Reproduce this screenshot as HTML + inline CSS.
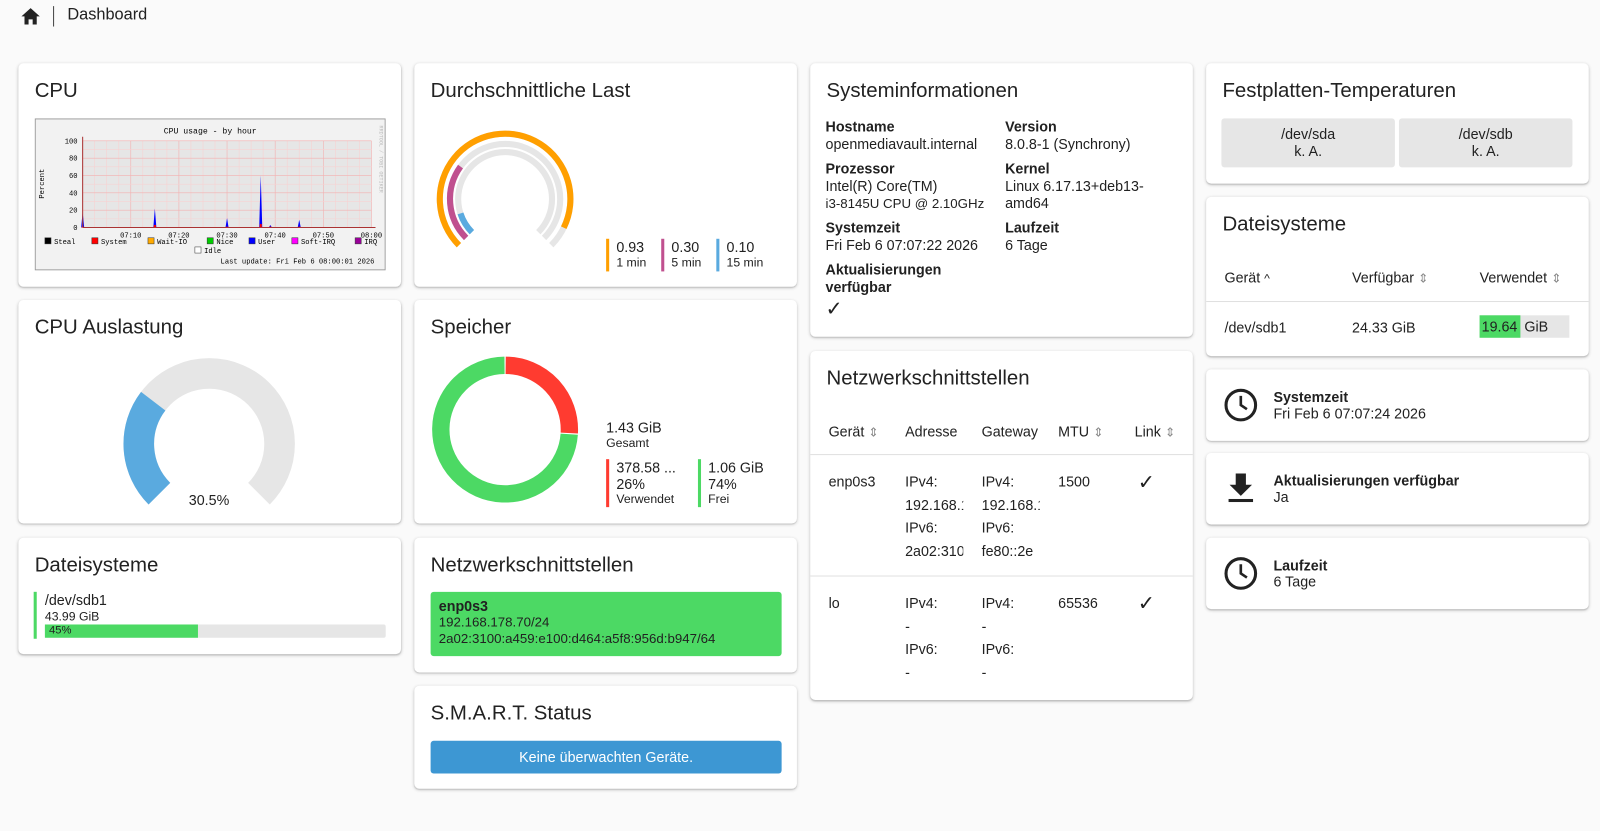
<!DOCTYPE html>
<html><head><meta charset="utf-8">
<style>
*{box-sizing:border-box;margin:0;padding:0}
body{width:1600px;height:831px;background:#fafafa;font-family:"Liberation Sans",sans-serif;color:#212121;position:relative;overflow:hidden;font-size:14px}
#wrap{position:absolute;left:0;top:0;width:1568px;height:814px;transform:scale(1.0204);transform-origin:0 0}
.a{position:absolute}
.card{position:absolute;background:#fff;border-radius:5px;box-shadow:0 1px 3px rgba(0,0,0,.2),0 1px 1px rgba(0,0,0,.1)}
.t{position:absolute;left:16px;top:16px;font-size:20px;line-height:23px;color:#222}
.lbl{font-weight:bold;font-size:14px}
.sm{font-size:12px}
.bar{position:absolute;width:3px}
</style></head><body>
<div id="wrap">
<svg class="a" style="left:20px;top:7px" width="20" height="18" viewBox="0 0 20 18"><path d="M10 1 L1 9 H4 V17 H8 V12 H12 V17 H16 V9 H19 Z" fill="#222"/></svg>
<div class="a" style="left:52px;top:6px;width:1px;height:20px;background:#444"></div>
<div class="a" style="left:66px;top:6px;font-size:16px">Dashboard</div>

<div class="card" style="left:18px;top:62px;width:375px;height:219px">
<div class="t">CPU</div>
<svg class="a" id="cpuchart" style="left:16px;top:54px" width="344" height="149"></svg>
</div>

<div class="card" style="left:406px;top:62px;width:375px;height:219px">
<div class="t">Durchschnittliche Last</div>
<svg class="a" id="loadg" style="left:10px;top:60px" width="160" height="140"></svg>
<div class="bar" style="left:188px;top:172px;height:32px;background:#ff9f00"></div>
<div class="a" style="left:198px;top:172px"><div>0.93</div><div class="sm">1 min</div></div>
<div class="bar" style="left:242px;top:172px;height:32px;background:#c0508f"></div>
<div class="a" style="left:252px;top:172px"><div>0.30</div><div class="sm">5 min</div></div>
<div class="bar" style="left:296px;top:172px;height:32px;background:#5aaadf"></div>
<div class="a" style="left:306px;top:172px"><div>0.10</div><div class="sm">15 min</div></div>
</div>

<div class="card" style="left:18px;top:294px;width:375px;height:219px">
<div class="t">CPU Auslastung</div>
<svg class="a" id="cpug" style="left:87px;top:50px" width="200" height="160"></svg>
<div class="a" style="left:167px;top:188px">30.5%</div>
</div>

<div class="card" style="left:406px;top:294px;width:375px;height:219px">
<div class="t">Speicher</div>
<svg class="a" id="memd" style="left:14px;top:52px" width="150" height="150"></svg>
<div class="a" style="left:188px;top:117px"><div>1.43 GiB</div><div class="sm">Gesamt</div></div>
<div class="bar" style="left:188px;top:156px;height:47px;background:#ff3b30"></div>
<div class="a" style="left:198px;top:156px"><div>378.58 ...</div><div>26%</div><div class="sm">Verwendet</div></div>
<div class="bar" style="left:278px;top:156px;height:47px;background:#4cd964"></div>
<div class="a" style="left:288px;top:156px"><div>1.06 GiB</div><div>74%</div><div class="sm">Frei</div></div>
</div>

<div class="card" style="left:18px;top:527px;width:375px;height:114px">
<div class="t">Dateisysteme</div>
<div class="bar" style="left:15px;top:53px;height:46px;background:#4cd964"></div>
<div class="a" style="left:26px;top:53px">/dev/sdb1</div>
<div class="a sm" style="left:26px;top:70px">43.99 GiB</div>
<div class="a" style="left:26px;top:85px;width:334px;height:13px;background:#e6e6e6;border-radius:2px"><div style="width:45%;height:100%;background:#4cd964;font-size:11px;padding-left:4px;line-height:13px">45%</div></div>
</div>

<div class="card" style="left:406px;top:527px;width:375px;height:132px">
<div class="t">Netzwerkschnittstellen</div>
<div class="a" style="left:16px;top:53px;width:344px;height:63px;background:#4cd964;border-radius:3px;padding:6px 8px;font-size:13px;line-height:16px"><div style="font-weight:bold;font-size:14px">enp0s3</div><div>192.168.178.70/24</div><div>2a02:3100:a459:e100:d464:a5f8:956d:b947/64</div></div>
</div>

<div class="card" style="left:406px;top:672px;width:375px;height:101px">
<div class="t">S.M.A.R.T. Status</div>
<div class="a" style="left:16px;top:54px;width:344px;height:32px;background:#3d97d3;color:#fff;border-radius:3px;text-align:center;line-height:32px">Keine überwachten Geräte.</div>
</div>

<div class="card" style="left:794px;top:62px;width:375px;height:268px;line-height:17px">
<div class="t">Systeminformationen</div>
<div class="a" style="left:15px;top:54px"><div class="lbl">Hostname</div><div>openmediavault.internal</div></div>
<div class="a" style="left:191px;top:54px"><div class="lbl">Version</div><div>8.0.8-1 (Synchrony)</div></div>
<div class="a" style="left:15px;top:95px"><div class="lbl">Prozessor</div><div>Intel(R) Core(TM)</div><div style="font-size:13px">i3-8145U CPU @ 2.10GHz</div></div>
<div class="a" style="left:191px;top:95px"><div class="lbl">Kernel</div><div>Linux 6.17.13+deb13-</div><div>amd64</div></div>
<div class="a" style="left:15px;top:153px"><div class="lbl">Systemzeit</div><div>Fri Feb 6 07:07:22 2026</div></div>
<div class="a" style="left:191px;top:153px"><div class="lbl">Laufzeit</div><div>6 Tage</div></div>
<div class="a" style="left:15px;top:194px"><div class="lbl">Aktualisierungen</div><div class="lbl">verfügbar</div><div style="font-size:20px;line-height:26px">✓</div></div>
</div>

<div class="card" style="left:794px;top:344px;width:375px;height:342px">
<div class="t">Netzwerkschnittstellen</div>
<div class="a" style="left:18px;top:71px">Gerät <span class="sm" style="color:#888">⇕</span></div>
<div class="a" style="left:93px;top:71px">Adresse</div>
<div class="a" style="left:168px;top:71px">Gateway</div>
<div class="a" style="left:243px;top:71px">MTU <span class="sm" style="color:#888">⇕</span></div>
<div class="a" style="left:318px;top:71px">Link <span class="sm" style="color:#888">⇕</span></div>
<div class="a" style="left:0;top:101px;width:375px;height:1px;background:#e0e0e0"></div>
<div class="a" style="left:18px;top:120px">enp0s3</div>
<div class="a" style="left:93px;top:117px;line-height:22.5px;width:57px;overflow:hidden;white-space:nowrap">IPv4:<br>192.168.1<br>IPv6:<br>2a02:310</div>
<div class="a" style="left:168px;top:117px;line-height:22.5px;width:57px;overflow:hidden;white-space:nowrap">IPv4:<br>192.168.1<br>IPv6:<br>fe80::2e</div>
<div class="a" style="left:243px;top:120px">1500</div>
<div class="a" style="left:321px;top:116px;font-size:20px">✓</div>
<div class="a" style="left:0;top:220px;width:375px;height:1px;background:#e0e0e0"></div>
<div class="a" style="left:18px;top:239px">lo</div>
<div class="a" style="left:93px;top:236px;line-height:22.5px">IPv4:<br>-<br>IPv6:<br>-</div>
<div class="a" style="left:168px;top:236px;line-height:22.5px">IPv4:<br>-<br>IPv6:<br>-</div>
<div class="a" style="left:243px;top:239px">65536</div>
<div class="a" style="left:321px;top:235px;font-size:20px">✓</div>
</div>

<div class="card" style="left:1182px;top:62px;width:375px;height:118px">
<div class="t">Festplatten-Temperaturen</div>
<div class="a" style="left:15px;top:54px;width:170px;height:48px;background:#e6e6e6;border-radius:3px;text-align:center;padding-top:7px;line-height:17px">/dev/sda<br>k. A.</div>
<div class="a" style="left:189px;top:54px;width:170px;height:48px;background:#e6e6e6;border-radius:3px;text-align:center;padding-top:7px;line-height:17px">/dev/sdb<br>k. A.</div>
</div>

<div class="card" style="left:1182px;top:193px;width:375px;height:156px">
<div class="t">Dateisysteme</div>
<div class="a" style="left:18px;top:71px">Gerät <span class="sm">^</span></div>
<div class="a" style="left:143px;top:71px">Verfügbar <span class="sm" style="color:#888">⇕</span></div>
<div class="a" style="left:268px;top:71px">Verwendet <span class="sm" style="color:#888">⇕</span></div>
<div class="a" style="left:0;top:102px;width:375px;height:1px;background:#e0e0e0"></div>
<div class="a" style="left:18px;top:120px">/dev/sdb1</div>
<div class="a" style="left:143px;top:120px">24.33 GiB</div>
<div class="a" style="left:268px;top:116px;width:88px;height:22px;background:#e6e6e6;line-height:22px"><span style="background:#4cd964;display:inline-block;width:40px;padding-left:2px">19.64</span> GiB</div>
</div>

<div class="card" style="left:1182px;top:362px;width:375px;height:70px">
<svg class="a" style="left:16px;top:17px" width="36" height="36" viewBox="0 0 36 36"><circle cx="18" cy="18" r="14.5" fill="none" stroke="#222" stroke-width="3"/><path d="M18 9 V18 L24 22" fill="none" stroke="#222" stroke-width="2.6"/></svg>
<div class="a" style="left:66px;top:19px"><div class="lbl">Systemzeit</div><div>Fri Feb 6 07:07:24 2026</div></div>
</div>
<div class="card" style="left:1182px;top:444px;width:375px;height:70px">
<svg class="a" style="left:18px;top:18px" width="32" height="32" viewBox="0 0 32 32"><path d="M11 2 H21 V13 H27 L16 24 L5 13 H11 Z" fill="#222"/><rect x="4" y="27" width="24" height="3" fill="#222"/></svg>
<div class="a" style="left:66px;top:19px"><div class="lbl">Aktualisierungen verfügbar</div><div>Ja</div></div>
</div>
<div class="card" style="left:1182px;top:527px;width:375px;height:70px">
<svg class="a" style="left:16px;top:17px" width="36" height="36" viewBox="0 0 36 36"><circle cx="18" cy="18" r="14.5" fill="none" stroke="#222" stroke-width="3"/><path d="M18 9 V18 L24 22" fill="none" stroke="#222" stroke-width="2.6"/></svg>
<div class="a" style="left:66px;top:19px"><div class="lbl">Laufzeit</div><div>6 Tage</div></div>
</div>
</div>

<script>
const NS='http://www.w3.org/2000/svg';
const cpuTimes=[0,15,30,37,39,45];
const cpuUser=[18,22,11,60,3,9];
const cpuSystem=[1,3,1,4,1,1];
const xTickLabels=['07:10','07:20','07:30','07:40','07:50','08:00'];
const yTickLabels=[0,20,40,60,80,100];
const loadValues=[0.93,0.30,0.10];
const cpuPercent=30.5;
const memUsedPct=26;

function mk(p,tag,at,txt){const e=document.createElementNS(NS,tag);for(const k in at)e.setAttribute(k,at[k]);if(txt!==undefined)e.textContent=txt;p.appendChild(e);return e;}

(function(){
 const s=document.getElementById('cpuchart');
 mk(s,'rect',{x:0.5,y:0.5,width:343,height:148,fill:'#f2f2f2',stroke:'#999'});
 const x0=47,x1=330,y0=107,y1=22;
 const X=m=>x0+(x1-x0)*m/60, Y=v=>y0-(y0-y1)*v/100;
 mk(s,'rect',{x:x0,y:y1,width:x1-x0,height:y0-y1,fill:'#e6e6e6'});
 for(let m=0;m<=60;m+=2.5){const g=mk(s,'line',{x1:X(m),x2:X(m),y1:y1,y2:y0,stroke:m%10==0?'#f3b0b0':'#f7d2d2','stroke-width':0.6});}
 for(let v=0;v<=100;v+=10){mk(s,'line',{x1:x0,x2:x1,y1:Y(v),y2:Y(v),stroke:v%20==0?'#f3b0b0':'#f7d2d2','stroke-width':0.6});}
 yTickLabels.forEach(v=>{const t=mk(s,'text',{x:x0-5,y:Y(v)+2.5,'font-size':7,'text-anchor':'end','font-family':'Liberation Mono'},v);});
 xTickLabels.forEach((l,i)=>{const t=mk(s,'text',{x:X((i+1)*10),y:y0+10,'font-size':7,'text-anchor':'middle','font-family':'Liberation Mono'},l);});
 cpuTimes.forEach((m,i)=>{
  const b=mk(s,'polygon',{points:`${X(m)-1.5},${y0} ${X(m)},${Y(cpuUser[i])} ${X(m)+1.5},${y0}`,fill:'#0000ff'});
  
  const r=mk(s,'rect',{x:X(m)-1,y:Y(cpuSystem[i]),width:2,height:y0-Y(cpuSystem[i]),fill:'#ff0000'});
  
 });
 mk(s,'line',{x1:x0,x2:x1+4,y1:y0,y2:y0,stroke:'#a33','stroke-width':1});
 mk(s,'line',{x1:x0,x2:x0,y1:y0,y2:y1-4,stroke:'#a33','stroke-width':1});
 mk(s,'text',{x:172,y:15,'font-size':8,'text-anchor':'middle','font-family':'Liberation Mono'},'CPU usage - by hour');
 mk(s,'text',{x:9,y:64,'font-size':7,'text-anchor':'middle','font-family':'Liberation Mono',transform:'rotate(-90 9 64)'},'Percent');
 mk(s,'text',{x:338,y:40,'font-size':5,'fill':'#bbb','font-family':'Liberation Mono',transform:'rotate(90 338 40)','text-anchor':'middle'},'RRDTOOL / TOBI OETIKER');
 const leg=[['Steal','#000',4],['System','#f00',50],['Wait-IO','#fa0',105],['Nice','#0c0',163],['User','#00f',204],['Soft-IRQ','#f0f',246],['IRQ','#909',308]];
 leg.forEach(l=>{mk(s,'rect',{x:l[2]+6,y:117,width:6,height:6,fill:l[1],stroke:'#333','stroke-width':.5});mk(s,'text',{x:l[2]+15,y:123,'font-size':7,'font-family':'Liberation Mono'},l[0]);});
 mk(s,'rect',{x:157,y:126,width:6,height:6,fill:'#fff',stroke:'#333','stroke-width':.5});
 mk(s,'text',{x:166,y:132,'font-size':7,'font-family':'Liberation Mono'},'Idle');
 mk(s,'text',{x:333,y:142,'font-size':7,'text-anchor':'end','font-family':'Liberation Mono'},'Last update: Fri Feb  6 08:00:01 2026');
})();

function arc(cx,cy,r,a0,a1){const p=a=>[cx+r*Math.sin(a*Math.PI/180),cy-r*Math.cos(a*Math.PI/180)];const s=p(a0),e=p(a1);return `M${s[0]},${s[1]} A${r},${r} 0 ${a1-a0>180?1:0} 1 ${e[0]},${e[1]}`;}
(function(){
 const s=document.getElementById('loadg');const cx=79,cy=73;
 const radii=[64,54,46],cols=['#ff9f00','#c0508f','#5aaadf'];
 radii.forEach((r,i)=>{
  mk(s,'path',{d:arc(cx,cy,r,-135,135),fill:'none',stroke:'#e6e6e6','stroke-width':6});
  const v=Math.min(loadValues[i],1);
  const p=mk(s,'path',{d:arc(cx,cy,r,-135,-135+270*v),fill:'none',stroke:cols[i],'stroke-width':6});
  
 });
})();
(function(){
 const s=document.getElementById('cpug');const cx=100,cy=91,r=69;
 mk(s,'path',{d:arc(cx,cy,r,-135,135),fill:'none',stroke:'#e6e6e6','stroke-width':30});
 const p=mk(s,'path',{d:arc(cx,cy,r,-135,-135+270*cpuPercent/100),fill:'none',stroke:'#5aaadf','stroke-width':30});
 
})();
(function(){
 const s=document.getElementById('memd');const cx=75,cy=75,r=63;
 const a=360*memUsedPct/100;
 const u=mk(s,'path',{d:arc(cx,cy,r,0.5,a-0.5),fill:'none',stroke:'#ff3b30','stroke-width':17});
 
 const f=mk(s,'path',{d:arc(cx,cy,r,a+0.5,359.5),fill:'none',stroke:'#4cd964','stroke-width':17});
 
})();
</script>
</body></html>
